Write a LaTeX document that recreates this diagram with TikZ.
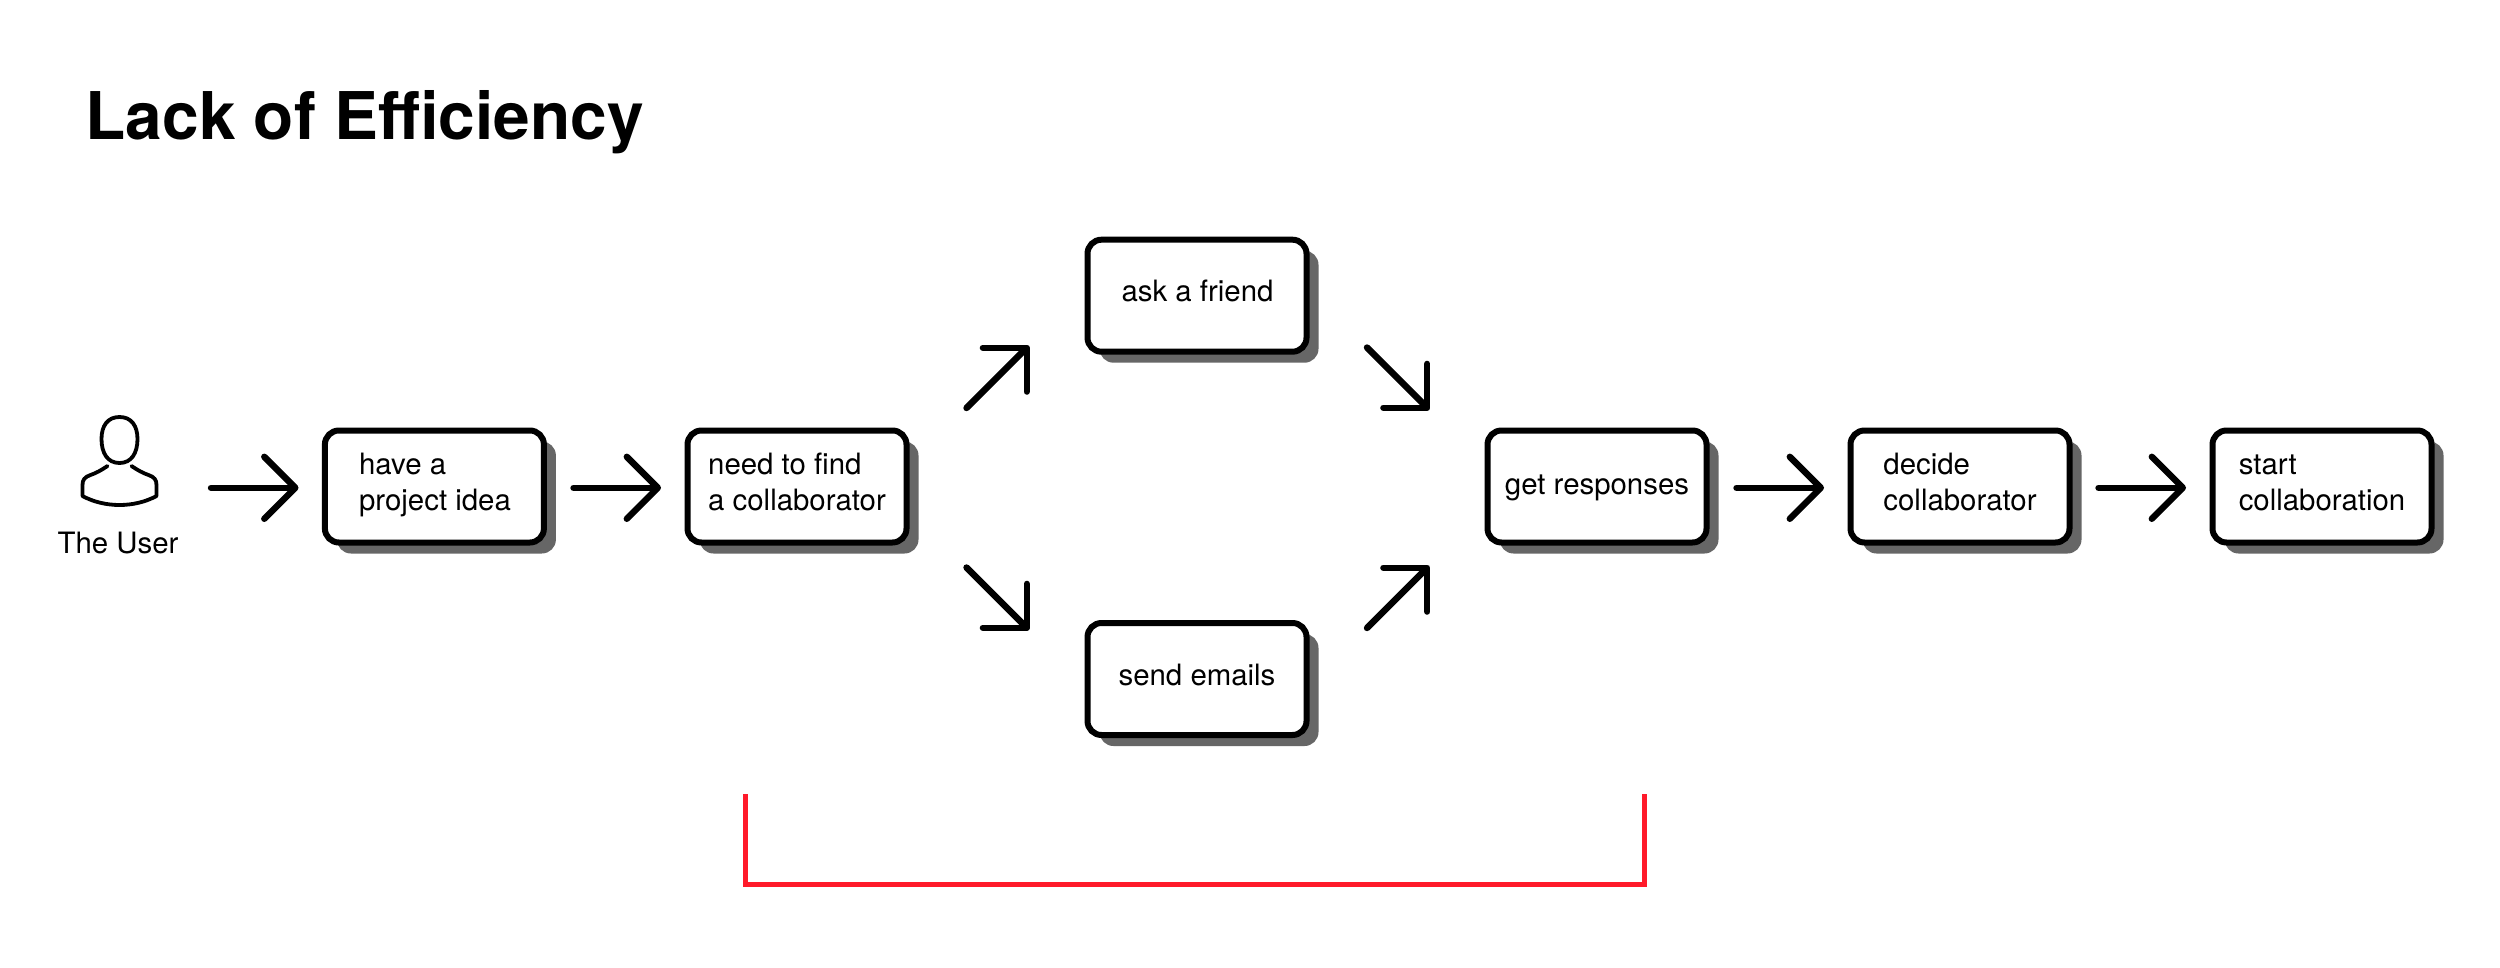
\documentclass[tikz,border=0pt]{standalone}
\usepackage{fontspec}
\setmainfont{TeX Gyre Heros}
\usetikzlibrary{arrows.meta,shadows}
\definecolor{shadowgray}{HTML}{666666}
\definecolor{redline}{HTML}{FF1A2A}
\newcommand{\txtline}[1]{#1\strut}
\tikzset{
  stepbox/.style={draw=black,line width=3pt,rounded corners=7pt,fill=white,
    minimum width=109.5pt,minimum height=56pt,inner sep=0pt,
    drop shadow={shadow xshift=6pt,shadow yshift=-5.5pt,fill=shadowgray,opacity=1}},
  boxtext/.style={inner sep=0pt,align=left,font=\fontsize{14.7}{17.6}\selectfont},
  flow/.style={draw=black,line width=3.2pt,line cap=round,line join=round,
    -{Straight Barb[length=15.5pt,width=31pt,round]}},
  bracket/.style={draw=redline,line width=2.6pt},
  icon/.style={draw=black,line width=1.9pt,line cap=round,line join=round},
  titletext/.style={anchor=base west,inner sep=0pt,font=\fontsize{32.9}{38}\selectfont\bfseries},
  usertext/.style={anchor=base,inner sep=0pt,font=\fontsize{14.7}{17.6}\selectfont}
}
\begin{document}
\begin{tikzpicture}[x=0.5pt,y=-0.5pt]
\useasboundingbox[fill=white] (0,0) rectangle (2500,968);
\node[titletext] (title) at (85,139.5) {Lack of Efficiency};
% user icon
\begin{scope}[shift={(-0.5,-2)}]
\draw[icon] (120,419) .. controls (108,419) and (102,428) .. (102,441)
  .. controls (102,455) and (108,465) .. (120,465)
  .. controls (132,465) and (138,455) .. (138,441)
  .. controls (138,428) and (132,419) .. (120,419) -- cycle;
\draw[icon] (108,468) .. controls (102,472) and (97,475) .. (91,477)
  .. controls (85,479) and (83,482) .. (83,487) -- (83,498)
  .. controls (105,510) and (135,510) .. (157,498) -- (157,487)
  .. controls (157,482) and (155,479) .. (149,477)
  .. controls (143,475) and (138,472) .. (132,468);
\end{scope}
\node[usertext] (user) at (118,553.5) {The User};
% boxes
\node[stepbox] (idea) at (434.4,486.5) {};
\node[stepbox] (need) at (797,486.5) {};
\node[stepbox] (friend) at (1197,295.7) {};
\node[stepbox] (emails) at (1197,679) {};
\node[stepbox] (resp) at (1597,486.5) {};
\node[stepbox] (decide) at (1960,486.5) {};
\node[stepbox] (start) at (2322,486.5) {};
% box texts
\node[boxtext] (ideat) at (435,485.5) {\txtline{have a}\\\txtline{project idea}};
\node[boxtext] (needt) at (797,485.5) {\txtline{need to find}\\\txtline{a collaborator}};
\node[boxtext] (friendt) at (1197.5,294.5) {\txtline{ask a friend}};
\node[boxtext] (emailst) at (1197,678) {\txtline{send emails}};
\node[boxtext] (respt) at (1597,487.5) {\txtline{get responses}};
\node[boxtext] (decidet) at (1960,485.5) {\txtline{decide}\\\txtline{collaborator}};
\node[boxtext] (startt) at (2322,485.5) {\txtline{start}\\\txtline{collaboration}};
% connector ends
\coordinate (h1a) at (211,487.8); \coordinate (h1b) at (298.5,487.8);
\coordinate (h2a) at (573.5,487.8); \coordinate (h2b) at (661,487.8);
\coordinate (h3a) at (1736.5,487.8); \coordinate (h3b) at (1824,487.8);
\coordinate (h4a) at (2098.5,487.8); \coordinate (h4b) at (2186,487.8);
\coordinate (d1a) at (966.5,408); \coordinate (d1b) at (1029,345.5);
\coordinate (d2a) at (966.5,567.5); \coordinate (d2b) at (1029,630);
\coordinate (d3a) at (1367,347.5); \coordinate (d3b) at (1429.5,410);
\coordinate (d4a) at (1367,628); \coordinate (d4b) at (1429.5,565.5);
\draw[flow] (h1a) -- (h1b);
\draw[flow] (h2a) -- (h2b);
\draw[flow] (h3a) -- (h3b);
\draw[flow] (h4a) -- (h4b);
\draw[flow] (d1a) -- (d1b);
\draw[flow] (d2a) -- (d2b);
\draw[flow] (d3a) -- (d3b);
\draw[flow] (d4a) -- (d4b);
% red bracket
\coordinate (b1) at (745.2,794); \coordinate (b2) at (745.2,884.7);
\coordinate (b3) at (1644.2,884.7); \coordinate (b4) at (1644.2,794);
\draw[bracket] (b1) -- (b2) -- (b3) -- (b4);
\end{tikzpicture}
\end{document}
